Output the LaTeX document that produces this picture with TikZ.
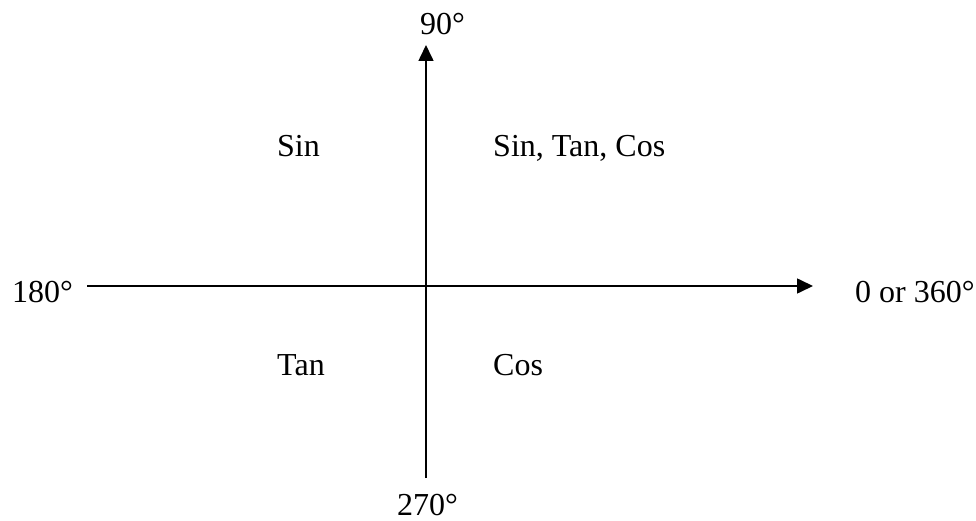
\documentclass[tikz,border=0pt]{standalone}
\usepackage{fontspec}
\setmainfont{Liberation Serif}
\usetikzlibrary{arrows.meta}
\begin{document}
\begin{tikzpicture}[x=1pt,y=-1pt,
  lbl/.style={anchor=base west,inner sep=0pt,font=\fontsize{32}{38}\selectfont},
  axis/.style={line width=1.6pt,-{Triangle[length=16pt,width=15pt]}}]
\useasboundingbox (0,0) rectangle (976,521);
\coordinate (top) at (426,45);
\coordinate (bot) at (426,478);
\coordinate (left) at (87,286);
\coordinate (right) at (813,286);
\draw[axis] (bot) -- (top);
\draw[axis] (left) -- (right);
\node[lbl] (n90) at (420,35) {90°};
\node[lbl] (n180) at (12,302) {180°};
\node[lbl] (n0) at (855,302) {0 or 360°};
\node[lbl] (n270) at (397,515) {270°};
\node[lbl] (q2) at (277,157) {Sin};
\node[lbl] (q1) at (493,157) {Sin, Tan, Cos};
\node[lbl] (q3) at (277,375) {Tan};
\node[lbl] (q4) at (493,375) {Cos};
\end{tikzpicture}
\end{document}
